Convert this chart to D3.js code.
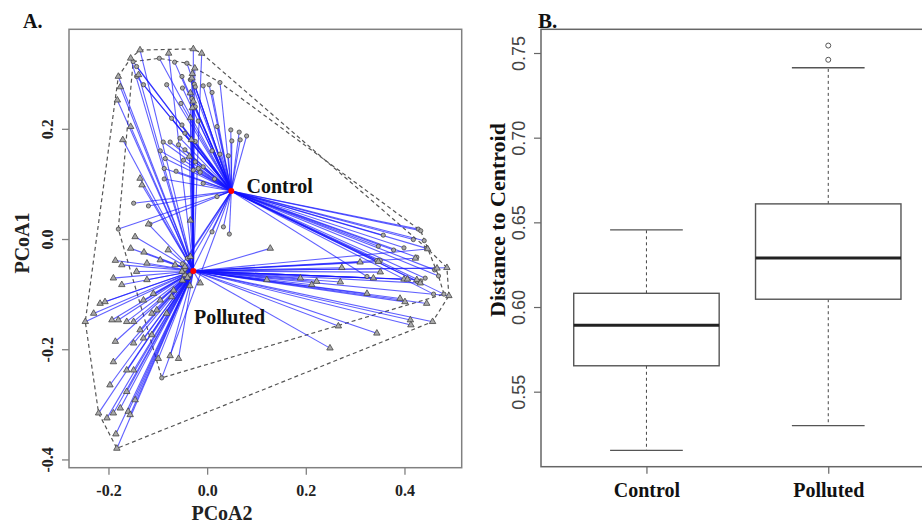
<!DOCTYPE html>
<html>
  <head>
    <title>PCoA and distance to centroid</title>
    <script src="https://cdn.jsdelivr.net/npm/d3@7"></script>
    <style>
      body { margin: 0; background: #fff; }
      svg { display: block; }
    </style>
  </head>
  <body>
    <script>
      // Panel A: PCoA scores per group (x = PCoA2, y = PCoA1)
      const groups = ["Control", "Polluted"];
      const centroidX = [0.049, -0.028];
      const centroidY = [0.087, -0.058];

      const ctrlX = [-0.097, -0.066, -0.041, -0.143, -0.143, -0.129, -0.082, -0.051, -0.034, -0.026,
        -0.050, -0.024, -0.008, 0.004, 0.026, 0.010, -0.031, -0.053, -0.024, -0.072,
        -0.018, -0.051, 0.020, 0.048, 0.065, 0.080, 0.050, 0.067, -0.089, -0.075,
        -0.055, -0.045, -0.058, -0.095, -0.045, -0.024, 0.010, 0.026, 0.043, -0.085,
        -0.048, -0.024, -0.008, -0.018, -0.087, -0.063, -0.028, -0.014, -0.087, -0.008,
        0.015, 0.020, -0.150, -0.180, -0.116, -0.092, 0.010, 0.033, 0.045, -0.149,
        -0.119, 0.428, 0.433, 0.418, 0.440, 0.445, 0.357, 0.347, 0.378, 0.399,
        0.425, 0.344, 0.351, 0.461, 0.469, 0.426, 0.433, 0.442, 0.459, 0.480, 0.324,
        -0.045, -0.035, -0.050, -0.040];
      const ctrlY = [0.328, 0.321, 0.319, 0.313, 0.295, 0.280, 0.280, 0.295, 0.289, 0.281,
        0.274, 0.276, 0.278, 0.280, 0.284, 0.266, 0.255, 0.246, 0.240, 0.219,
        0.214, 0.207, 0.204, 0.198, 0.194, 0.187, 0.178, 0.180, 0.176, 0.176,
        0.183, 0.192, 0.171, 0.160, 0.162, 0.177, 0.160, 0.154, 0.151, 0.146,
        0.143, 0.140, 0.131, 0.128, 0.128, 0.123, 0.125, 0.121, 0.109, 0.101,
        0.109, 0.077, 0.322, 0.018, 0.027, -0.252, 0.013, 0.022, 0.009, 0.065,
        0.060, 0.018, 0.015, -0.001, -0.003, -0.017, 0.007, -0.013, -0.020, -0.016,
        -0.033, -0.039, -0.039, -0.056, -0.067, -0.077, -0.076, -0.071, -0.100, -0.100, -0.068,
        -0.055, -0.065, -0.045, -0.035];

      const polX = [-0.136, -0.028, -0.011, -0.155, -0.180, -0.176, -0.182, -0.171, -0.155, -0.139,
        -0.031, -0.034, -0.030, -0.034, -0.136, -0.132, -0.146, -0.119, -0.155, -0.128,
        -0.186, -0.173, -0.143, -0.122, -0.190, -0.173, -0.217, -0.207, -0.230, -0.247,
        -0.193, -0.180, -0.163, -0.149, -0.136, -0.186, -0.149, -0.129, -0.112, -0.190,
        -0.163, -0.149, -0.099, -0.075, -0.058, -0.197, -0.163, -0.146, -0.220, -0.203,
        -0.190, -0.176, -0.160, -0.156, -0.185, -0.183, -0.122, -0.109, -0.095, -0.129,
        -0.112, -0.102, -0.082, -0.068, -0.072, -0.014, -0.045, -0.051, -0.034, -0.034,
        -0.095, -0.079, -0.065, -0.078, 0.128, 0.273, 0.121, 0.212, 0.222, 0.324,
        0.391, 0.401, 0.445, 0.486, 0.466, 0.412, 0.413, 0.457, 0.266, 0.344,
        0.249, 0.347, 0.422, 0.425, 0.432, 0.337, 0.399, 0.406, 0.270, 0.189,
        0.351, 0.310, 0.490, 0.447, -0.030, -0.028, -0.032, -0.036, -0.025,
        -0.045, -0.040, -0.050, -0.035];
      const polY = [0.343, 0.345, 0.337, 0.328, 0.295, 0.276, 0.252, 0.180, 0.204, 0.298,
        0.292, 0.265, 0.238, 0.220, 0.110, 0.098, 0.004, 0.027, -0.017, -0.024,
        -0.039, -0.047, -0.059, -0.044, -0.071, -0.083, -0.117, -0.114, -0.135, -0.150,
        -0.147, -0.147, -0.150, -0.150, -0.165, -0.186, -0.189, -0.180, -0.174, -0.223,
        -0.238, -0.238, -0.217, -0.212, -0.217, -0.265, -0.277, -0.292, -0.316, -0.325,
        -0.316, -0.307, -0.313, -0.319, -0.354, -0.380, -0.074, -0.099, -0.111, -0.111,
        -0.135, -0.129, -0.135, -0.093, -0.105, -0.080, -0.065, -0.059, -0.032, 0.034,
        -0.038, -0.020, -0.047, 0.337, -0.017, -0.052, -0.074, -0.083, -0.077, -0.099,
        -0.108, -0.114, -0.117, -0.052, -0.053, -0.147, -0.156, -0.150, -0.158, -0.171,
        -0.198, -0.041, -0.035, -0.074, -0.080, -0.071, -0.073, -0.073, -0.078, -0.071,
        -0.060, -0.042, -0.103, -0.018, 0.300, 0.250, 0.180, 0.150, 0.310,
        -0.050, -0.070, -0.075, -0.085];

      // Panel B: distance to centroid boxplot stats
      const boxQ1 = [0.5653, 0.6046];
      const boxMedian = [0.5892, 0.6290];
      const boxQ3 = [0.6081, 0.6609];
      const whiskerLo = [0.5153, 0.5299];
      const whiskerHi = [0.6455, 0.7413];
      const outliers = [[], [0.746, 0.7544]];

      const w = 922;
      const h = 524;
      const serif = "'Liberation Serif', 'Times New Roman', serif";
      const sans = "'Liberation Sans', Arial, sans-serif";

      const svg = d3.select("body").append("svg").attr("width", w).attr("height", h);
      svg.append("rect").attr("width", w).attr("height", h).attr("fill", "#fff");

      // ---------- Panel A ----------
      const xL = d3.scaleLinear().domain([-0.28, 0.516]).range([69, 461.7]);
      const yL = d3.scaleLinear().domain([-0.415, 0.3806]).range([467.7, 29.3]);

      const sets = [
        ctrlX.map((x, i) => [x, ctrlY[i]]),
        polX.map((x, i) => [x, polY[i]])
      ];

      const pA = svg.append("g");

      // convex hulls
      sets.forEach(function (pts) {
        const hull = d3.polygonHull(pts.map(p => [xL(p[0]), yL(p[1])]));
        pA.append("path")
          .attr("d", "M" + hull.join("L") + "Z")
          .attr("fill", "none")
          .attr("stroke", "#555")
          .attr("stroke-width", 1.2)
          .attr("stroke-dasharray", "4,3");
      });

      // segments to centroid
      sets.forEach(function (pts, g) {
        pA.append("g").selectAll("line")
          .data(pts)
          .enter()
          .append("line")
          .attr("x1", d => xL(d[0]))
          .attr("y1", d => yL(d[1]))
          .attr("x2", xL(centroidX[g]))
          .attr("y2", yL(centroidY[g]))
          .attr("stroke", "rgb(20,20,255)")
          .attr("stroke-opacity", 0.68)
          .attr("stroke-width", 1.1);
      });

      // points
      const shapes = [d3.symbol().type(d3.symbolCircle).size(14), d3.symbol().type(d3.symbolTriangle).size(18)];
      sets.forEach(function (pts, g) {
        pA.append("g").selectAll("path")
          .data(pts)
          .enter()
          .append("path")
          .attr("d", shapes[g])
          .attr("transform", d => `translate(${xL(d[0])},${yL(d[1])})`)
          .attr("fill", "#a8a8a8")
          .attr("stroke", "#444")
          .attr("stroke-width", 0.8);
      });

      // centroids
      pA.selectAll("circle.cen")
        .data(groups)
        .enter()
        .append("circle")
        .attr("cx", (d, i) => xL(centroidX[i]))
        .attr("cy", (d, i) => yL(centroidY[i]))
        .attr("r", 3)
        .attr("fill", "red");

      // group labels
      pA.append("text").text("Control")
        .attr("x", 246.5).attr("y", 192.5)
        .attr("font-family", serif).attr("font-weight", "bold").attr("font-size", "20px").attr("fill", "#111");
      pA.append("text").text("Polluted")
        .attr("x", 194).attr("y", 324)
        .attr("font-family", serif).attr("font-weight", "bold").attr("font-size", "20px").attr("fill", "#111");

      // box
      pA.append("rect")
        .attr("x", 69).attr("y", 29.3)
        .attr("width", 461.7 - 69).attr("height", 467.7 - 29.3)
        .attr("fill", "none").attr("stroke", "#808080").attr("stroke-width", 1.5);

      // axes
      const axB = pA.append("g").attr("transform", "translate(0,467.7)")
        .call(d3.axisBottom(xL).tickValues([-0.2, 0, 0.2, 0.4]).tickFormat(d => d.toFixed(1)).tickSize(7).tickSizeOuter(0));
      axB.select(".domain").remove();
      axB.selectAll("line").attr("stroke", "#808080").attr("stroke-width", 1.3);
      axB.selectAll("text").attr("y", 28).attr("dy", 0)
        .attr("font-family", serif).attr("font-weight", "bold").attr("font-size", "16px").attr("fill", "#222");

      const axL = pA.append("g").attr("transform", "translate(69,0)")
        .call(d3.axisLeft(yL).tickValues([-0.4, -0.2, 0, 0.2]).tickFormat(d => d.toFixed(1)).tickSize(7).tickSizeOuter(0));
      axL.select(".domain").remove();
      axL.selectAll("line").attr("stroke", "#808080").attr("stroke-width", 1.3);
      axL.selectAll("text").attr("transform", "rotate(-90)").attr("x", 0).attr("y", -16).attr("dy", 0)
        .attr("text-anchor", "middle")
        .attr("font-family", serif).attr("font-weight", "bold").attr("font-size", "16px").attr("fill", "#222");

      pA.append("text").text("PCoA2")
        .attr("x", 222).attr("y", 520).attr("text-anchor", "middle")
        .attr("font-family", serif).attr("font-weight", "bold").attr("font-size", "20px").attr("fill", "#222");
      pA.append("text").text("PCoA1")
        .attr("transform", "translate(29,243) rotate(-90)").attr("text-anchor", "middle")
        .attr("font-family", serif).attr("font-weight", "bold").attr("font-size", "20px").attr("fill", "#222");
      pA.append("text").text("A.")
        .attr("x", 23).attr("y", 28)
        .attr("font-family", serif).attr("font-weight", "bold").attr("font-size", "20px").attr("fill", "#111");

      // ---------- Panel B ----------
      const xR = d3.scaleLinear().domain([0.42, 2.58]).range([541, 933.7]);
      const yR = d3.scaleLinear().domain([0.5057, 0.764]).range([466.7, 29.3]);
      const pB = svg.append("g");

      groups.forEach(function (g, i) {
        const cx = xR(i + 1);
        // whiskers
        pB.append("line").attr("x1", cx).attr("x2", cx)
          .attr("y1", yR(boxQ3[i])).attr("y2", yR(whiskerHi[i]))
          .attr("stroke", "#444").attr("stroke-width", 1).attr("stroke-dasharray", "3,3");
        pB.append("line").attr("x1", cx).attr("x2", cx)
          .attr("y1", yR(boxQ1[i])).attr("y2", yR(whiskerLo[i]))
          .attr("stroke", "#444").attr("stroke-width", 1).attr("stroke-dasharray", "3,3");
        // caps
        [whiskerHi[i], whiskerLo[i]].forEach(function (v) {
          pB.append("line").attr("x1", xR(i + 0.8)).attr("x2", xR(i + 1.2))
            .attr("y1", yR(v)).attr("y2", yR(v))
            .attr("stroke", "#555").attr("stroke-width", 1.3);
        });
        // box
        pB.append("rect")
          .attr("x", xR(i + 0.6)).attr("width", xR(i + 1.4) - xR(i + 0.6))
          .attr("y", yR(boxQ3[i])).attr("height", yR(boxQ1[i]) - yR(boxQ3[i]))
          .attr("fill", "#fff").attr("stroke", "#555").attr("stroke-width", 1.4);
        // median
        pB.append("line").attr("x1", xR(i + 0.6)).attr("x2", xR(i + 1.4))
          .attr("y1", yR(boxMedian[i])).attr("y2", yR(boxMedian[i]))
          .attr("stroke", "#222").attr("stroke-width", 3);
        // outliers
        pB.selectAll(null).data(outliers[i]).enter().append("circle")
          .attr("cx", cx).attr("cy", d => yR(d)).attr("r", 2.5)
          .attr("fill", "none").attr("stroke", "#555").attr("stroke-width", 1);
      });

      pB.append("rect")
        .attr("x", 541).attr("y", 29.3)
        .attr("width", 933.7 - 541).attr("height", 466.7 - 29.3)
        .attr("fill", "none").attr("stroke", "#666").attr("stroke-width", 1.5);

      const ayR = pB.append("g").attr("transform", "translate(541,0)")
        .call(d3.axisLeft(yR).tickValues([0.55, 0.6, 0.65, 0.7, 0.75]).tickFormat(d => d.toFixed(2)).tickSize(7).tickSizeOuter(0));
      ayR.select(".domain").remove();
      ayR.selectAll("line").attr("stroke", "#666").attr("stroke-width", 1.2);
      ayR.selectAll("text").attr("transform", "rotate(-90)").attr("x", 0).attr("y", -16).attr("dy", 0)
        .attr("text-anchor", "middle")
        .attr("font-family", sans).attr("font-size", "18px").attr("fill", "#444");

      const axR = pB.append("g").attr("transform", "translate(0,466.7)")
        .call(d3.axisBottom(xR).tickValues([1, 2]).tickFormat((d, i) => groups[i]).tickSize(7).tickSizeOuter(0));
      axR.select(".domain").remove();
      axR.selectAll("line").attr("stroke", "#666").attr("stroke-width", 1.2);
      axR.selectAll("text").attr("y", 30).attr("dy", 0)
        .attr("font-family", serif).attr("font-weight", "bold").attr("font-size", "20px").attr("fill", "#111");

      pB.append("text").text("Distance to Centroid")
        .attr("transform", "translate(505,220) rotate(-90)").attr("text-anchor", "middle")
        .attr("font-family", serif).attr("font-weight", "bold").attr("font-size", "22px").attr("fill", "#111");
      pB.append("text").text("B.")
        .attr("x", 538).attr("y", 28)
        .attr("font-family", serif).attr("font-weight", "bold").attr("font-size", "21px").attr("fill", "#111");
    </script>
  </body>
</html>
